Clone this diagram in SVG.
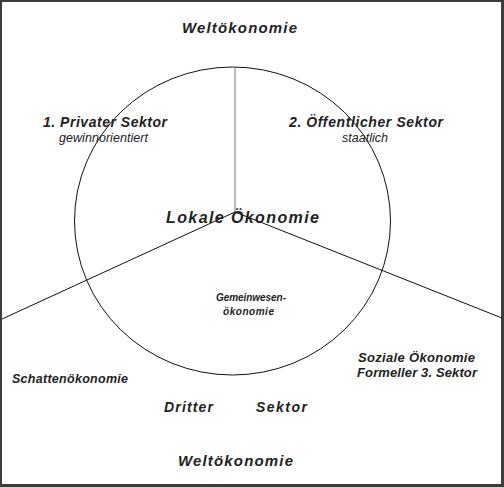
<svg xmlns="http://www.w3.org/2000/svg" width="504" height="487" viewBox="0 0 504 487">
<style>
.t{font-family:"Liberation Sans",Arial,sans-serif;font-style:italic;fill:#222;}
.b{font-weight:bold;}
.ln{stroke:#111;stroke-width:1;fill:none;}
</style>
<rect x="0" y="0" width="504" height="487" fill="#3c3c3c"/>
<rect x="2" y="2" width="499" height="482" fill="#fff"/>
<g id="connectors">
<ellipse class="ln" cx="232.5" cy="221" rx="158" ry="154"/>
<line x1="235" y1="67" x2="235" y2="212" stroke="#777" stroke-width="1"/>
<line class="ln" x1="2" y1="319" x2="235" y2="212"/>
<line class="ln" x1="235" y1="212" x2="502" y2="318"/>
</g>
<g id="welt-top"><text class="t b" x="182" y="33" font-size="15" textLength="115" lengthAdjust="spacing">Weltökonomie</text></g>
<g id="welt-bottom"><text class="t b" x="178" y="466" font-size="15" textLength="115" lengthAdjust="spacing">Weltökonomie</text></g>
<g id="privat">
<text class="t b" x="43" y="127" font-size="14" textLength="124" lengthAdjust="spacing">1. Privater Sektor</text>
<text class="t" x="59" y="141.5" font-size="12.5" textLength="89" lengthAdjust="spacing">gewinnorientiert</text>
</g>
<g id="oeffentlich">
<text class="t b" x="289" y="127" font-size="14" textLength="154" lengthAdjust="spacing">2. Öffentlicher Sektor</text>
<text class="t" x="342" y="141.5" font-size="12.5" textLength="46" lengthAdjust="spacing">staatlich</text>
</g>
<g id="lokal"><text class="t b" x="166" y="223" font-size="16" textLength="153" lengthAdjust="spacing">Lokale Ökonomie</text></g>
<g id="gemeinwesen">
<text class="t b" x="216" y="301" font-size="10" textLength="70" lengthAdjust="spacing">Gemeinwesen-</text>
<text class="t b" x="223" y="315" font-size="10" textLength="51" lengthAdjust="spacing">ökonomie</text>
</g>
<g id="schatten"><text class="t b" x="12" y="383" font-size="12.5" textLength="116" lengthAdjust="spacing">Schattenökonomie</text></g>
<g id="sozial">
<text class="t b" x="358" y="362" font-size="13" textLength="117" lengthAdjust="spacing">Soziale Ökonomie</text>
<text class="t b" x="357" y="377" font-size="13" textLength="120" lengthAdjust="spacing">Formeller 3. Sektor</text>
</g>
<g id="dritter">
<text class="t b" x="164" y="412" font-size="14" textLength="49" lengthAdjust="spacing">Dritter</text>
<text class="t b" x="256" y="412" font-size="14" textLength="51" lengthAdjust="spacing">Sektor</text>
</g>
</svg>
